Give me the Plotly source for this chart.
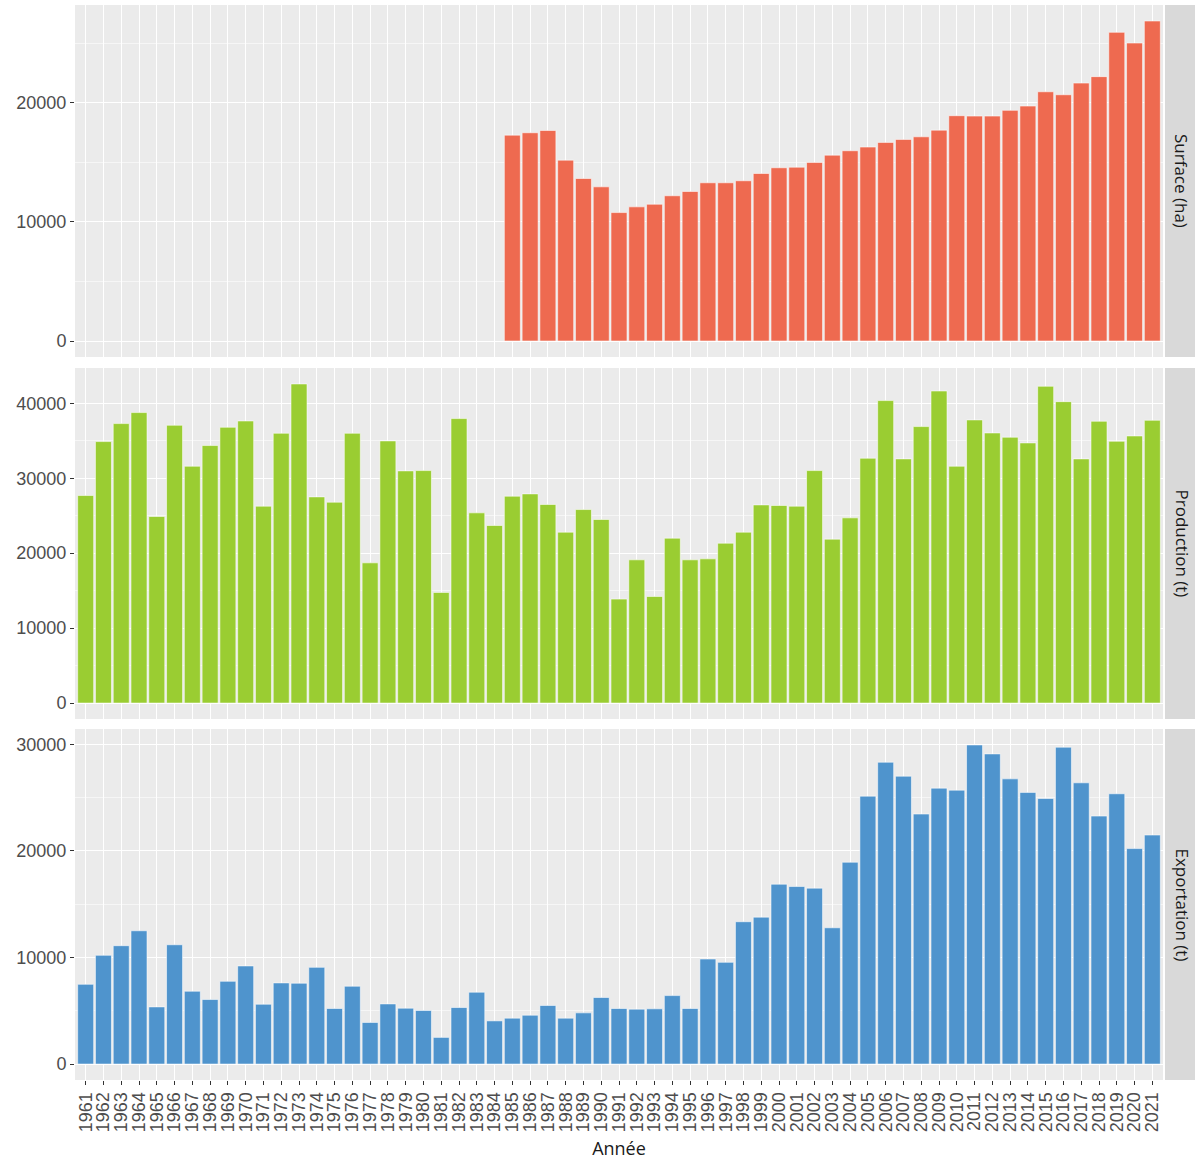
import plotly.graph_objects as go
from plotly.subplots import make_subplots

years = [str(y) for y in range(1961, 2022)]

surface_ha = [None] * 24 + [
    17280, 17480, 17670, 15180, 13640, 12940,
    10780, 11260, 11480, 12190, 12550, 13280, 13280, 13450, 14060, 14540,
    14590, 14990, 15600, 15970, 16280, 16670, 16920, 17140, 17700, 18910,
    18880, 18880, 19360, 19720, 20920, 20670, 21650, 22190, 25910, 25010, 26860,
]

production_t = [
    27690, 34890, 37290, 38760, 24890, 37070, 31600, 34360, 36800, 37640,
    26270, 36000, 42580, 27510, 26800, 36000, 18710, 34980, 30980, 31020,
    14760, 37960, 25380, 23690, 27600, 27910, 26490, 22800, 25820, 24490,
    13870, 19110, 14220, 22000, 19110, 19240, 21330, 22800, 26440, 26360,
    26270, 31020, 21870, 24710, 32670, 40360, 32580, 36890, 41640, 31600,
    37780, 36040, 35470, 34710, 42270, 40220, 32580, 37600, 34930, 35640, 37730,
]

export_t = [
    7480, 10200, 11100, 12500, 5360, 11190, 6830, 6050, 7760, 9200,
    5610, 7610, 7580, 9070, 5210, 7300, 3900, 5640, 5240, 5020,
    2500, 5300, 6740, 4050, 4300, 4580, 5490, 4300, 4800, 6240,
    5210, 5150, 5180, 6420, 5210, 9850, 9540, 13350, 13780, 16870,
    16650, 16500, 12780, 18930, 25130, 28310, 27000, 23450, 25880, 25690,
    29930, 29090, 26750, 25480, 24910, 29720, 26380, 23260, 25350, 20210, 21480,
]

panels = ["Surface (ha)", "Production (t)", "Exportation (t)"]
series = [surface_ha, production_t, export_t]
colors = ["#EE6A50", "#9ACD32", "#4F94CD"]

W, H = 1195, 1160
ml, mr, mt, mb = 75, 32, 5, 80
plot_h = H - mt - mb
plot_w = W - ml - mr

# panel pixel spans (top, bottom)
spans = [(5, 357), (368, 719), (729, 1080)]
doms = [[(H - mb - bot) / plot_h, (H - mb - top) / plot_h] for top, bot in spans]

fig = make_subplots(rows=3, cols=1, shared_xaxes=True, vertical_spacing=0.01)

for i, (vals, col) in enumerate(zip(series, colors)):
    fig.add_trace(
        go.Bar(
            x=years, y=vals, width=0.9,
            marker=dict(color=col, line=dict(color="rgba(255,255,255,0.55)", width=1)),
            showlegend=False,
        ),
        row=i + 1, col=1,
    )

for i, vals in enumerate(series):
    vmax = max(v for v in vals if v is not None)
    yname = "yaxis" if i == 0 else f"yaxis{i+1}"
    xname = "xaxis" if i == 0 else f"xaxis{i+1}"
    fig.layout[yname].update(
        domain=doms[i],
        range=[-0.05 * vmax, 1.05 * vmax],
        tickmode="linear", dtick=10000, tick0=0, tickformat="d",
        showgrid=True, gridcolor="white", gridwidth=1.2,
        minor=dict(showgrid=True, gridcolor="#F6F6F6", gridwidth=0.6, dtick=5000, tick0=0),
        zeroline=False, showline=False, automargin=False,
        ticks="outside", ticklen=4, tickcolor="#333333", tickwidth=1,
        tickfont=dict(family="Liberation Sans, Arial, sans-serif", size=18, color="#4D4D4D"),
        fixedrange=True,
    )
    fig.layout[xname].update(
        type="category", range=[-0.6, 60.6],
        tickmode="linear", dtick=1, tick0=0,
        showgrid=True, gridcolor="white", gridwidth=1.2,
        zeroline=False, showline=False, automargin=False,
        ticks="outside" if i == 2 else "", ticklen=4, tickcolor="#333333", tickwidth=1,
        showticklabels=(i == 2), tickangle=-90,
        tickfont=dict(family="Liberation Sans, Arial, sans-serif", size=18, color="#4D4D4D"),
    )

fig.layout.xaxis3.title = dict(
    text="Année", font=dict(family="Open Sans, Noto Sans, sans-serif", size=18, color="#1A1A1A"),
    standoff=13,
)

# facet strips on the right
sx0 = (1165 - ml) / plot_w
sx1 = (W + 5 - ml) / plot_w
tx = (1182 - ml) / plot_w
for d, name in zip(doms, panels):
    fig.add_shape(type="rect", xref="paper", yref="paper", x0=sx0, x1=sx1, y0=d[0], y1=d[1],
                  fillcolor="#D9D9D9", line=dict(width=0), layer="below")
    fig.add_annotation(xref="paper", yref="paper", x=tx, y=(d[0] + d[1]) / 2, text=name,
                       textangle=90, showarrow=False, xanchor="center", yanchor="middle",
                       font=dict(family="Open Sans, Noto Sans, sans-serif", size=17, color="#1A1A1A"))

fig.update_layout(
    width=W, height=H,
    margin=dict(l=ml, r=mr, t=mt, b=mb, autoexpand=False),
    paper_bgcolor="white", plot_bgcolor="#EBEBEB",
    bargap=0.1, showlegend=False,
)

fig.write_html(
    "out.html",
    config={"displayModeBar": False},
    post_script="document.body.style.margin='0';document.body.style.overflow='hidden';",
)
